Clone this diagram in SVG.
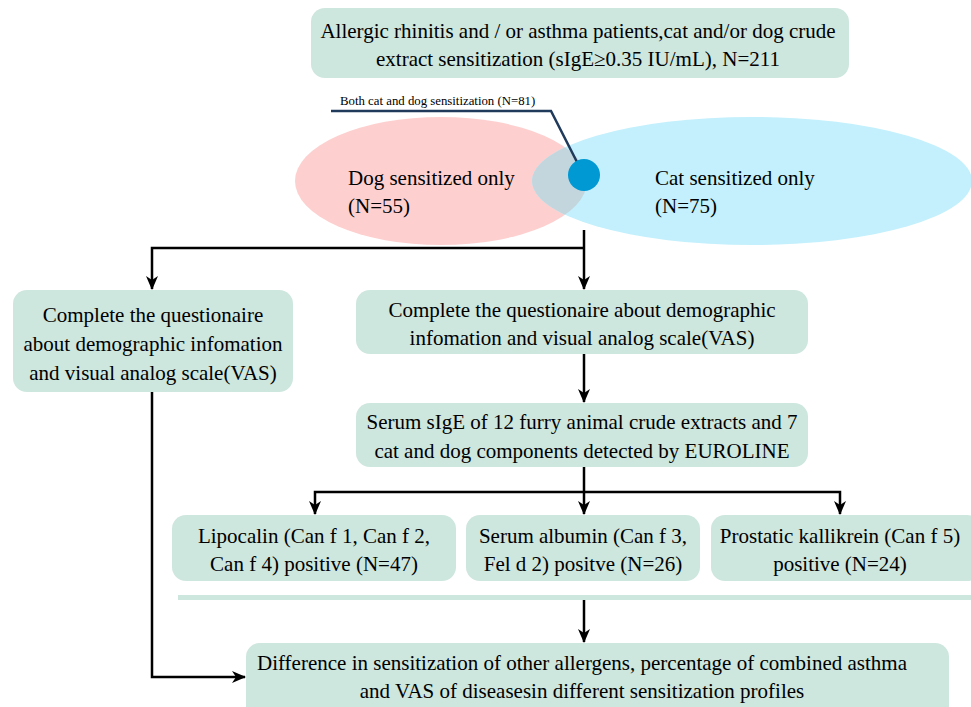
<svg xmlns="http://www.w3.org/2000/svg" width="971" height="707" viewBox="0 0 971 707">
<defs>
<style>
.box{fill:#cde6de;}
.t{font-family:"Liberation Serif","Times New Roman",serif;font-size:21px;fill:#000;}
.c{text-anchor:middle;}
.ln{fill:none;stroke:#000;stroke-width:2.5;}
</style>
<marker id="ah" markerWidth="14" markerHeight="12" refX="13" refY="6" orient="auto" markerUnits="userSpaceOnUse" viewBox="0 0 14 12">
<path d="M0,0 L14,6 L0,12 L4,6 Z" fill="#000"/>
</marker>
<clipPath id="catclip"><ellipse cx="752" cy="181" rx="220" ry="64"/></clipPath>
</defs>
<rect width="971" height="707" fill="#fff"/>

<g id="top">
<rect class="box" x="311" y="8" width="538" height="70" rx="14"/>
<text class="t c" x="578" y="38">Allergic rhinitis and / or asthma patients,cat and/or dog crude</text>
<text class="t c" x="578" y="66">extract sensitization (sIgE≥0.35 IU/mL), N=211</text>
</g>

<g id="venn">
<ellipse cx="441" cy="181" rx="146" ry="64" fill="#fdd0cf"/>
<ellipse cx="752" cy="181" rx="220" ry="64" fill="#c3f0fc"/>
<ellipse cx="441" cy="181" rx="146" ry="64" fill="#c3d6de" clip-path="url(#catclip)"/>
<text class="t" x="348" y="185">Dog sensitized only</text>
<text class="t" x="348" y="213">(N=55)</text>
<text class="t" x="655" y="185">Cat sensitized only</text>
<text class="t" x="655" y="213">(N=75)</text>
</g>

<g id="both">
<polyline points="331,111 551,111 578,164" fill="none" stroke="#1f3a5a" stroke-width="2.5"/>
<circle cx="584" cy="175" r="16" fill="#0099d4"/>
<text x="340" y="105" style="font-family:'Liberation Serif',serif;font-size:12.8px;">Both cat and dog sensitization (N=81)</text>
</g>

<g id="connectors">
<polyline class="ln" points="584,230 584,289" marker-end="url(#ah)"/>
<polyline class="ln" points="584,248 152,248 152,289" marker-end="url(#ah)"/>
<polyline class="ln" points="584,354 584,402" marker-end="url(#ah)"/>
<polyline class="ln" points="584,467 584,514" marker-end="url(#ah)"/>
<polyline class="ln" points="584,492 315,492 315,514" marker-end="url(#ah)"/>
<polyline class="ln" points="584,492 840,492 840,514" marker-end="url(#ah)"/>
<polyline class="ln" points="584,600 584,642" marker-end="url(#ah)"/>
<polyline class="ln" points="152,392 152,677 245,677" marker-end="url(#ah)"/>
</g>

<g id="left-q">
<rect class="box" x="13" y="290" width="280" height="102" rx="14"/>
<text class="t c" x="153" y="322">Complete the questionaire</text>
<text class="t c" x="153" y="351">about demographic infomation</text>
<text class="t c" x="153" y="380">and visual analog scale(VAS)</text>
</g>

<g id="mid-q">
<rect class="box" x="356" y="290" width="452" height="64" rx="14"/>
<text class="t c" x="582" y="317">Complete the questionaire about demographic</text>
<text class="t c" x="582" y="345">infomation and visual analog scale(VAS)</text>
</g>

<g id="serum">
<rect class="box" x="356" y="403" width="452" height="64" rx="14"/>
<text class="t c" x="582" y="429">Serum sIgE of 12 furry animal crude extracts and 7</text>
<text class="t c" x="582" y="458">cat and dog components detected by EUROLINE</text>
</g>

<g id="lipocalin">
<rect class="box" x="172" y="515" width="284" height="66" rx="14"/>
<text class="t c" x="314" y="543">Lipocalin (Can f 1, Can f 2,</text>
<text class="t c" x="314" y="571">Can f 4) positive (N=47)</text>
</g>

<g id="albumin">
<rect class="box" x="466" y="515" width="234" height="66" rx="14"/>
<text class="t c" x="583" y="543">Serum albumin (Can f 3,</text>
<text class="t c" x="583" y="571">Fel d 2) positve (N=26)</text>
</g>

<g id="kallikrein">
<rect class="box" x="711" y="515" width="270" height="66" rx="14"/>
<text class="t c" x="840" y="543">Prostatic kallikrein (Can f 5)</text>
<text class="t c" x="840" y="571">positive (N=24)</text>
</g>

<rect id="band" x="178" y="595" width="793" height="5" fill="#cde6de"/>

<g id="difference">
<rect class="box" x="246" y="643" width="703" height="80" rx="14"/>
<text class="t c" x="582" y="670">Difference in sensitization of other allergens, percentage of combined asthma</text>
<text class="t c" x="582" y="698">and VAS of diseasesin different sensitization profiles</text>
</g>
</svg>
